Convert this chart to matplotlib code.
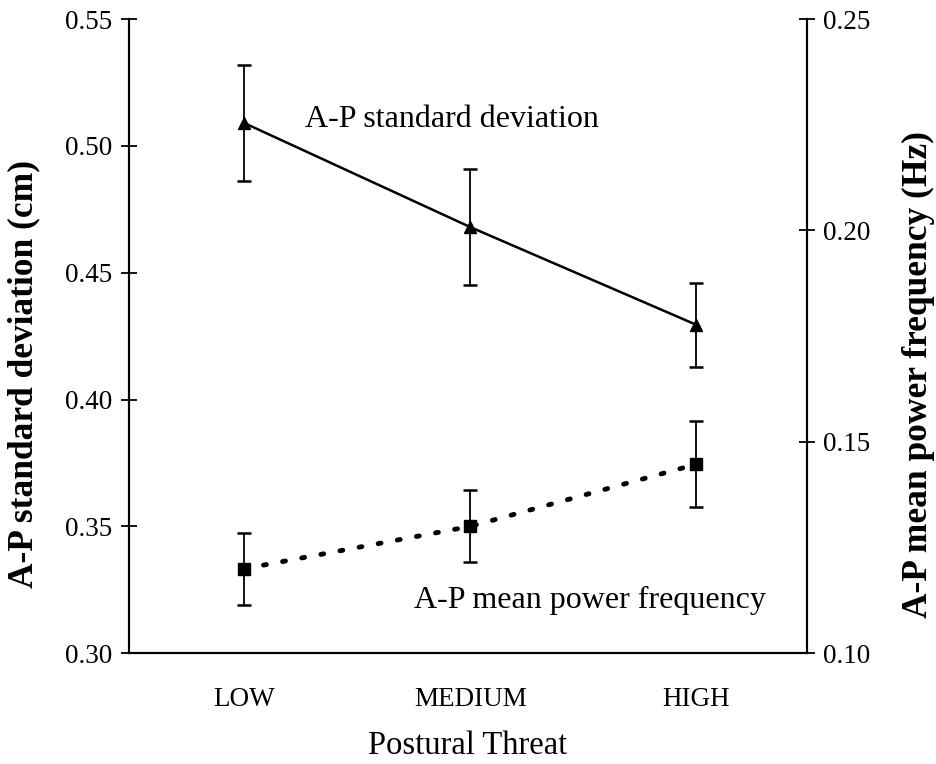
import numpy as np
import matplotlib
matplotlib.use('Agg')
import matplotlib.pyplot as plt

plt.rcParams['font.family'] = ['Liberation Serif', 'DejaVu Serif']

CATEGORIES = ['LOW', 'MEDIUM', 'HIGH']
SD_MEAN = [0.509, 0.468, 0.4295]
SD_ERR = [0.023, 0.023, 0.0165]
MPF_MEAN = [0.120, 0.130, 0.1447]
MPF_ERR = [0.0085, 0.0085, 0.0102]

x = np.arange(len(CATEGORIES))

fig = plt.figure(figsize=(9.36, 7.64), dpi=100)
ax = fig.add_axes([0.138, 0.145, 0.724, 0.830])
ax2 = ax.twinx()

ax.errorbar(x, SD_MEAN, yerr=SD_ERR, color='black', linewidth=1.8,
            marker='^', markersize=9, elinewidth=1.3, capsize=4.7,
            capthick=1.8, zorder=3)
ax2.errorbar(x, MPF_MEAN, yerr=MPF_ERR, color='black', linewidth=0,
             marker='s', markersize=8, elinewidth=1.3, capsize=4.7,
             capthick=1.8, zorder=3)
ax2.plot(x, MPF_MEAN, color='black', linewidth=3.5, linestyle=(0, (0.6, 3.4)),
         dash_capstyle='round', zorder=2)

ax.set_xlim(-0.51, 2.49)
ax.set_ylim(0.30, 0.55)
ax2.set_ylim(0.10, 0.25)
ax.set_yticks([0.30, 0.35, 0.40, 0.45, 0.50, 0.55])
ax2.set_yticks([0.10, 0.15, 0.20, 0.25])
ax.set_yticklabels(['{:.2f}'.format(v) for v in ax.get_yticks()])
ax2.set_yticklabels(['{:.2f}'.format(v) for v in ax2.get_yticks()])
ax.set_xticks(x)
ax.set_xticklabels(CATEGORIES)

for a in (ax, ax2):
    a.spines['top'].set_visible(False)
    for s in ('left', 'right', 'bottom'):
        a.spines[s].set_linewidth(1.5)
    a.tick_params(axis='y', direction='inout', length=12, width=1.3,
                  labelsize=19.5, pad=6)
ax.tick_params(axis='x', length=0, labelsize=19.5, pad=24)

ax.set_xlabel('Postural Threat', fontsize=23.5, labelpad=14)
ax.set_ylabel('A-P standard deviation (cm)', fontsize=25.5, fontweight='bold')
ax2.set_ylabel('A-P mean power frequency (Hz)', fontsize=25.5,
               fontweight='bold', rotation=90)
ax.yaxis.set_label_coords(-0.131, 0.44)
ax2.yaxis.set_label_coords(1.140, 0.44)

ax.text(0.27, 0.5105, 'A-P standard deviation', fontsize=23, va='center',
        ha='left')
ax2.text(0.75, 0.1125, 'A-P mean power frequency', fontsize=23,
         va='center', ha='left')

fig.savefig('out.png', dpi=100)
